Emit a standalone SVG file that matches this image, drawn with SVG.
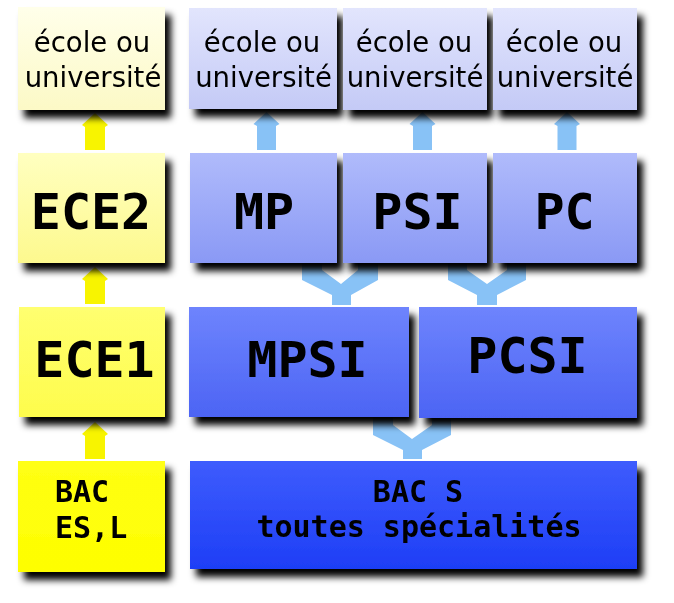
<svg xmlns="http://www.w3.org/2000/svg" width="674" height="603" viewBox="0 0 674 603">
<defs>
<filter id="sh" x="-10%" y="-10%" width="125%" height="135%">
<feOffset in="SourceAlpha" dx="6" dy="8" result="o"/>
<feGaussianBlur in="o" stdDeviation="3.5" result="b"/>
<feFlood flood-color="#000" flood-opacity="1"/>
<feComposite in2="b" operator="in" result="s"/>
<feMerge><feMergeNode in="s"/><feMergeNode in="SourceGraphic"/></feMerge>
</filter>
<linearGradient id="gy1" x1="0" y1="0" x2="0" y2="1"><stop offset="0" stop-color="#ffffea"/><stop offset="1" stop-color="#fcf9c6"/></linearGradient>
<linearGradient id="gb1" x1="0" y1="0" x2="0" y2="1"><stop offset="0" stop-color="#e2e5fd"/><stop offset="1" stop-color="#c4caf6"/></linearGradient>
<linearGradient id="gy2" x1="0" y1="0" x2="0" y2="1"><stop offset="0" stop-color="#ffffc0"/><stop offset="1" stop-color="#fdf98e"/></linearGradient>
<linearGradient id="gb2" x1="0" y1="0" x2="0" y2="1"><stop offset="0" stop-color="#b0bbfb"/><stop offset="1" stop-color="#8a99f5"/></linearGradient>
<linearGradient id="gy3" x1="0" y1="0" x2="0" y2="1"><stop offset="0" stop-color="#ffff70"/><stop offset="1" stop-color="#fefc4c"/></linearGradient>
<linearGradient id="gb3" x1="0" y1="0" x2="0" y2="1"><stop offset="0" stop-color="#6e84fd"/><stop offset="1" stop-color="#4c64f4"/></linearGradient>
<linearGradient id="gy4" x1="0" y1="0" x2="0" y2="1"><stop offset="0" stop-color="#ffff14"/><stop offset="1" stop-color="#fefe00"/></linearGradient>
<linearGradient id="gb4" x1="0" y1="0" x2="0" y2="1"><stop offset="0" stop-color="#3e5cfd"/><stop offset="1" stop-color="#1e3ef6"/></linearGradient>
</defs>
<style>
.box{filter:url(#sh)}
.t1{font-family:"DejaVu Sans","Liberation Sans",sans-serif;font-size:27.5px;fill:#000;text-anchor:middle}
.t2{font-family:"DejaVu Sans Mono","Liberation Mono",monospace;font-weight:bold;font-size:50px;fill:#000;text-anchor:middle}
.t3{font-family:"DejaVu Sans Mono","Liberation Mono",monospace;font-weight:bold;font-size:30px;fill:#000}
.ya{fill:#f8f400}
.ba{fill:#88c2f6}
</style>
<rect width="674" height="603" fill="#fff"/>
<g id="connectors">
<polygon class="ya" points="95,113 108,125 105,127 105,150 85,150 85,127 82,125"/>
<polygon class="ya" points="95,267 108,279 105,281 105,304 85,304 85,281 82,279"/>
<polygon class="ya" points="95,422 108,434 105,436 105,459 85,459 85,436 82,434"/>
<polygon class="ba" points="266.5,112 279.5,124 276,126 276,150 257,150 257,126 253.5,124"/>
<polygon class="ba" points="422.5,112 435.5,124 432,126 432,150 413,150 413,126 409.5,124"/>
<polygon class="ba" points="567,112 580,124 576.5,126 576.5,150 557.5,150 557.5,126 554,124"/>
<polygon class="ba" points="302,258 322,258 322,270 341,284 358,270 358,258 378,258 378,280 351,295 351,305 332,305 332,295 302,280"/>
<polygon class="ba" points="448,258 467,258 467,270 487,284 507,270 507,258 526,258 526,280 497,295 497,305 477,305 477,295 448,280"/>
<polygon class="ba" points="373,413 393,413 393,425 412,439 432,425 432,413 451,413 451,435 422,450 422,459 403,459 403,450 373,435"/>
</g>
<g id="n-ecole1" class="box"><rect x="18" y="7" width="147" height="103" fill="url(#gy1)"/><text class="t1" x="92" y="52">école ou</text><text class="t1" x="93" y="87">université</text></g>
<g id="n-ecole2" class="box"><rect x="189" y="8" width="148" height="101" fill="url(#gb1)"/><text class="t1" x="262" y="52">école ou</text><text class="t1" x="263.5" y="87">université</text></g>
<g id="n-ecole3" class="box"><rect x="343" y="8" width="144" height="102" fill="url(#gb1)"/><text class="t1" x="414" y="52">école ou</text><text class="t1" x="415" y="87">université</text></g>
<g id="n-ecole4" class="box"><rect x="493" y="8" width="144" height="102" fill="url(#gb1)"/><text class="t1" x="564" y="52">école ou</text><text class="t1" x="565" y="87">université</text></g>
<g id="n-ece2" class="box"><rect x="18" y="153" width="147" height="110" fill="url(#gy2)"/><text class="t2" x="91" y="229">ECE2</text></g>
<g id="n-mp" class="box"><rect x="190" y="153" width="147" height="110" fill="url(#gb2)"/><text class="t2" x="264" y="229">MP</text></g>
<g id="n-psi" class="box"><rect x="343" y="153" width="144" height="110" fill="url(#gb2)"/><text class="t2" x="417.5" y="229">PSI</text></g>
<g id="n-pc" class="box"><rect x="493" y="153" width="144" height="110" fill="url(#gb2)"/><text class="t2" x="564.5" y="229">PC</text></g>
<g id="n-ece1" class="box"><rect x="19" y="307" width="146" height="110" fill="url(#gy3)"/><text class="t2" x="94.5" y="377">ECE1</text></g>
<g id="n-mpsi" class="box"><rect x="189" y="307" width="220" height="110" fill="url(#gb3)"/><text class="t2" x="307.5" y="377">MPSI</text></g>
<g id="n-pcsi" class="box"><rect x="419" y="307" width="218" height="111" fill="url(#gb3)"/><text class="t2" x="527.5" y="373">PCSI</text></g>
<g id="n-bac-esl" class="box"><rect x="18" y="461" width="147" height="111" fill="url(#gy4)"/><text class="t3" x="55" y="502">BAC</text><text class="t3" x="55" y="538">ES,L</text></g>
<g id="n-bac-s" class="box"><rect x="190" y="461" width="447" height="108" fill="url(#gb4)"/><text class="t3" x="418" y="502" text-anchor="middle">BAC S</text><text class="t3" x="419" y="537" text-anchor="middle">toutes spécialités</text></g>
</svg>
